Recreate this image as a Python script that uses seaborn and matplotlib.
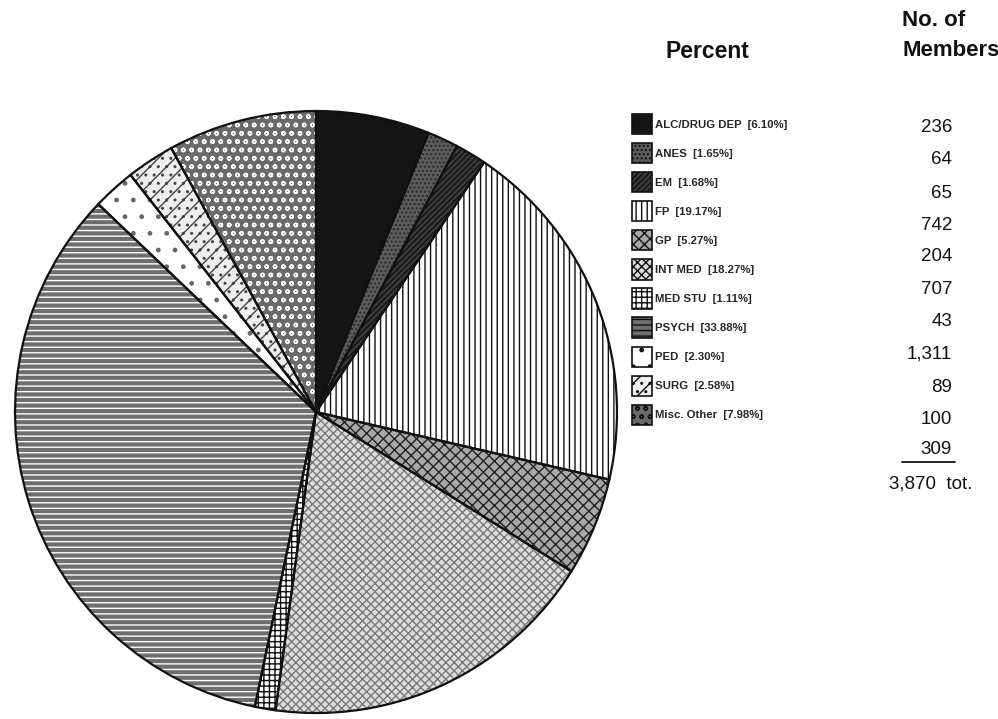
import matplotlib
matplotlib.use("Agg")
import matplotlib.pyplot as plt
from matplotlib.patches import Patch
from matplotlib import font_manager
import seaborn as sns

sns.set_theme(style="white")
plt.rcParams['font.family'] = ['Liberation Sans', 'DejaVu Sans']
plt.rcParams['hatch.linewidth'] = 1.0

names = {f.name for f in font_manager.fontManager.ttflist}
narrow = "Liberation Sans Narrow" if "Liberation Sans Narrow" in names else "Liberation Sans"

specialties = ["ALC/DRUG DEP", "ANES", "EM", "FP", "GP", "INT MED",
               "MED STU", "PSYCH", "PED", "SURG", "Misc. Other"]
percents = [6.10, 1.65, 1.68, 19.17, 5.27, 18.27, 1.11, 33.88, 2.30, 2.58, 7.98]
members = [236, 64, 65, 742, 204, 707, 43, 1311, 89, 100, 309]
member_labels = ["236", "64", "65", "742", "204", "707", "43", "1,311", "89", "100", "309"]
total_label = "3,870  tot."

# grey-scale fills + hatch patterns imitating the printed textures
fill_colors = ["#151515", "#5c5c5c", "#3a3a3a", "#ffffff", "#a8a8a8", "#dcdcdc",
               "#ffffff", "#6e6e6e", "#ffffff", "#eeeeee", "#6a6a6a"]
hatch_colors = ["#151515", "#2a2a2a", "#111111", "#111111", "#222222", "#7a7a7a",
                "#111111", "#ffffff", "#666666", "#444444", "#ffffff"]
hatches = ["", "....", "//////", "|||", "xxx", "xxxx",
           "+++", "---", ".", "..//", "oo"]

fig = plt.figure(figsize=(9.98, 7.19), dpi=100)
ax = fig.add_axes([12 / 998, 3 / 719, 608 / 998, 608 / 719])

wedges, _ = ax.pie(members, startangle=90, counterclock=False,
                   wedgeprops=dict(linewidth=0))
for w, fc, hc, h in zip(wedges, fill_colors, hatch_colors, hatches):
    w.set_facecolor(fc)
    w.set_edgecolor(hc)
    w.set_hatch(h)
    w.set_linewidth(0)

# black outlines on top
ax.pie(members, startangle=90, counterclock=False, colors=["none"] * len(members),
       wedgeprops=dict(edgecolor="#111111", linewidth=1.6, fill=False))
ax.set_xlim(-1.01, 1.01)
ax.set_ylim(-1.01, 1.01)
ax.set_aspect("equal")
ax.axis("off")

handles = [Patch(facecolor=fc, edgecolor="#111111", hatch=h, linewidth=1.2)
           for fc, h in zip(fill_colors, hatches)]
labels = [f"{s}  [{p:.2f}%]" for s, p in zip(specialties, percents)]
fig.legend(handles, labels, loc="upper left",
           bbox_to_anchor=(632 / 998, 1 - 114 / 719),
           bbox_transform=fig.transFigure, frameon=False, borderpad=0,
           borderaxespad=0, handlelength=1.75, handleheight=2.35,
           handletextpad=0.3, labelspacing=0.78,
           prop=dict(family=narrow, weight="bold", size=8.2))

fig.text(707 / 998, 1 - 52 / 719, "Percent", ha="center", va="center",
         fontsize=16.5, fontweight="bold", color="#111111")
fig.text(902 / 998, 1 - 20 / 719, "No. of", ha="left", va="center",
         fontsize=16, fontweight="bold", color="#111111")
fig.text(902 / 998, 1 - 50 / 719, "Members", ha="left", va="center",
         fontsize=16, fontweight="bold", color="#111111")

row_y = [127, 159, 193, 225, 257, 289, 322, 354, 387, 419, 450]
for lab, y in zip(member_labels, row_y):
    fig.text(952 / 998, 1 - y / 719, lab, ha="right", va="center",
             fontsize=13.5, color="#111111")
fig.add_artist(plt.Line2D([902 / 998, 955 / 998], [1 - 462 / 719, 1 - 462 / 719],
                          color="#111111", linewidth=1.3))
fig.text(889 / 998, 1 - 484 / 719, total_label, ha="left", va="center",
         fontsize=13.5, color="#111111")

fig.savefig("out.png", dpi=100)
